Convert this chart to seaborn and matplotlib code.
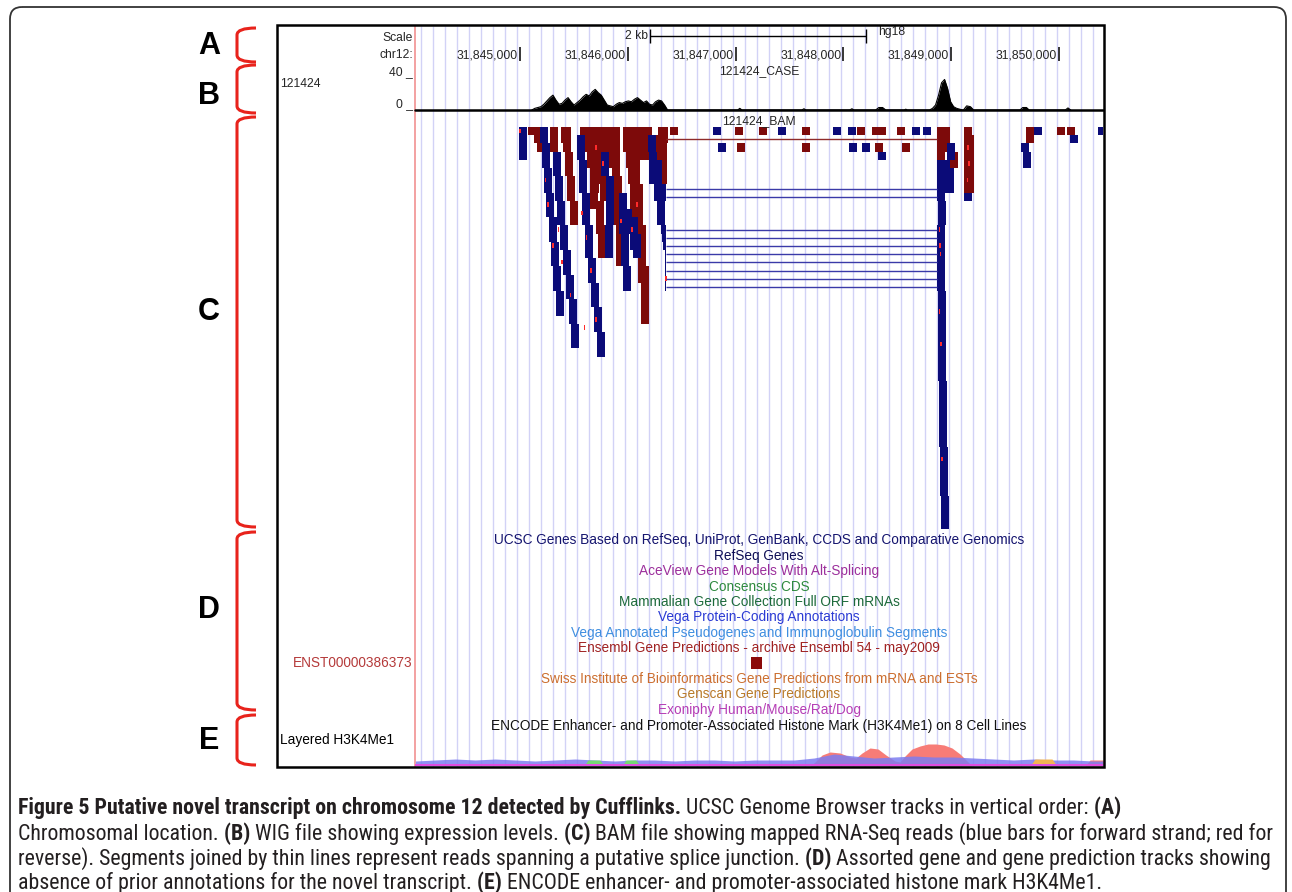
import numpy as np
import matplotlib
matplotlib.use("Agg")
import matplotlib.pyplot as plt
import seaborn as sns
from matplotlib import font_manager as fm
from matplotlib.patches import FancyBboxPatch, PathPatch, Rectangle
from matplotlib.path import Path

# ---------------------------------------------------------------- data
VIEW_START, VIEW_END = 31844026, 31850410
COORD_TICKS = [31845000, 31846000, 31847000, 31848000, 31849000, 31850000]
SCALE_BAR = (31846210, 31848210)
SCALE_LABEL = "2 kb"
ASSEMBLY = "hg18"
CHROM = "chr12:"
SAMPLE = "121424"
WIG_NAME = "121424_CASE"
BAM_NAME = "121424_BAM"
WIG_MAX = 40

# WIG coverage (fixedStep blocks + a few variableStep bumps)
COV_STEP = 28
COV_LEFT_START = 31845110
COV_LEFT = [0, 2, 3, 4, 7, 11, 15, 18, 12, 7, 8, 12, 15, 10, 6, 9, 12, 16, 19, 17,
            22, 25, 21, 18, 12, 6, 5, 4, 7, 9, 8, 10, 11, 10, 13, 15, 12, 9, 11, 7,
            6, 10, 12, 11, 6, 0]
COV_PEAK_START = 31848800
COV_PEAK = [0, 2, 6, 18, 33, 37, 26, 10, 4, 2, 1, 0]
COV_BUMP_POS = [31847020, 31847040, 31847060, 31847615, 31847635, 31847655,
                31848060, 31848080, 31848100, 31848300, 31848330, 31848365, 31848395,
                31848565, 31848580, 31848595, 31849115, 31849145, 31849180, 31849210,
                31849640, 31849665, 31849700, 31849725, 31850060, 31850085, 31850110]
COV_BUMP_VAL = [0, 2, 0, 0, 1.5, 0, 0, 1.5, 0, 0, 3, 3, 0, 0, 1, 0, 0, 5, 4, 0,
                0, 3, 3, 0, 0, 2.5, 0]

# BAM reads: (start, first_row, last_row) ; reads stacked in rows
READ_LEN = 74
N_ROWS = 49
FWD_READS = [
    (31844991, 0, 3), (31845186, 0, 1),
    (31845204, 2, 4), (31845223, 5, 7), (31845241, 8, 10), (31845269, 11, 13),
    (31845288, 14, 16), (31845306, 17, 19), (31845334, 20, 22),
    (31845306, 3, 5), (31845325, 6, 8), (31845343, 9, 11), (31845371, 12, 14),
    (31845399, 15, 17), (31845427, 18, 20), (31845455, 21, 23), (31845473, 24, 26),
    (31845529, 1, 3), (31845548, 4, 7), (31845575, 8, 11), (31845603, 12, 15),
    (31845631, 16, 18), (31845659, 19, 21), (31845687, 22, 24), (31845715, 25, 27),
    (31845752, 3, 5), (31845798, 6, 9), (31845789, 12, 15), (31845800, 10, 11),
    (31845919, 8, 12), (31845937, 13, 16), (31845956, 17, 19),
    (31845965, 10, 12), (31846021, 11, 14), (31846049, 13, 15),
    (31846188, 1, 2), (31846197, 3, 6), (31846240, 4, 8), (31846271, 9, 11),
    (31846791, 0, 0), (31846838, 2, 2), (31847394, 0, 0), (31847905, 0, 0),
    (31848044, 0, 0), (31848053, 2, 2), (31848174, 2, 2), (31848322, 3, 3),
    (31848638, 0, 0), (31848740, 0, 0), (31849649, 2, 2), (31849668, 3, 4),
    (31849770, 0, 0), (31850104, 1, 1), (31850364, 0, 0),
    (31848963, 2, 3), (31848870, 4, 6), (31848916, 4, 7), (31848953, 5, 7),
    (31848879, 9, 11), (31848879, 20, 30), (31848889, 31, 38),
    (31848898, 39, 44), (31848907, 45, 48), (31849120, 8, 8),
]
REV_READS = [
    (31845074, 0, 0), (31845130, 0, 1), (31845160, 0, 2), (31845278, 0, 2),
    (31845380, 0, 1), (31845399, 0, 2), (31845418, 3, 5), (31845436, 6, 8),
    (31845464, 9, 11),
    (31845557, 0, 0), (31845600, 0, 2), (31845622, 0, 4), (31845677, 0, 6),
    (31845742, 0, 8), (31845660, 4, 7),
    (31845789, 0, 3), (31845820, 0, 4), (31845650, 5, 9), (31845705, 9, 12),
    (31845724, 12, 15),
    (31845854, 0, 5), (31845872, 6, 11), (31845891, 12, 16),
    (31845960, 0, 2), (31845984, 0, 4), (31846000, 3, 6), (31846039, 0, 6),
    (31846095, 0, 3), (31846021, 5, 10),
    (31846067, 7, 13), (31846095, 12, 18), (31846123, 17, 23),
    (31846140, 0, 3), (31846151, 0, 0), (31846225, 1, 3), (31846281, 0, 0),
    (31846290, 2, 6), (31846300, 0, 1), (31846392, 0, 0),
    (31846995, 0, 0), (31847014, 2, 2), (31847218, 0, 0), (31847617, 0, 0),
    (31847617, 2, 2), (31848127, 0, 0), (31848267, 0, 0), (31848322, 0, 0),
    (31848294, 2, 2), (31848499, 0, 0), (31848545, 2, 2), (31849696, 0, 1),
    (31849983, 0, 0), (31850076, 0, 0),
    (31848870, 0, 3), (31848916, 0, 2), (31848990, 3, 4),
    (31849120, 0, 7), (31849139, 1, 7),
]
# spliced reads: (row, left_start, left_end, right_start, right_end, strand)
SPLICED = [
    (1, 31846281, 31846355, 31848870, 31848935, "-"),
    (7, 31846271, 31846355, 31848870, 31848935, "+"),
    (8, 31846290, 31846355, 31848870, 31848935, "+"),
    (12, 31846308, 31846355, 31848870, 31848935, "+"),
    (13, 31846318, 31846355, 31848870, 31848935, "+"),
    (14, 31846327, 31846355, 31848870, 31848935, "+"),
    (15, 31846345, 31846355, 31848870, 31848935, "+"),
    (16, 31846345, 31846355, 31848870, 31848935, "+"),
    (17, 31846345, 31846355, 31848870, 31848935, "+"),
    (18, 31846345, 31846355, 31848870, 31848935, "+"),
    (19, 31846345, 31846355, 31848870, 31848935, "+"),
]
MISMATCH_POS = [31844995, 31845230, 31845250, 31845300, 31845350, 31845380, 31845565,
                31845610, 31845650, 31845700, 31845760, 31845930, 31846030, 31848885,
                31848890, 31848895, 31848884, 31848902, 31848905, 31846347,
                31849150, 31849160, 31849145, 31845700, 31846080, 31845460, 31845590]
MISMATCH_ROW = [0, 6, 9, 14, 12, 16, 10, 13, 17, 23, 4, 11, 12, 12, 14, 15, 22, 26, 40,
                18, 2, 4, 6, 2, 9, 20, 24]

TRACKS = [
    ("UCSC Genes Based on RefSeq, UniProt, GenBank, CCDS and Comparative Genomics", "#14146e"),
    ("RefSeq Genes", "#0e0e55"),
    ("AceView Gene Models With Alt-Splicing", "#9c2f9c"),
    ("Consensus CDS", "#2f8a3f"),
    ("Mammalian Gene Collection Full ORF mRNAs", "#1d6a3b"),
    ("Vega Protein-Coding Annotations", "#2b3bd4"),
    ("Vega Annotated Pseudogenes and Immunoglobulin Segments", "#3f8ee0"),
    ("Ensembl Gene Predictions - archive Ensembl 54 - may2009", "#a02222"),
    ("Swiss Institute of Bioinformatics Gene Predictions from mRNA and ESTs", "#cc6f30"),
    ("Genscan Gene Predictions", "#b97a2a"),
    ("Exoniphy Human/Mouse/Rat/Dog", "#b53db5"),
    ("ENCODE Enhancer- and Promoter-Associated Histone Mark (H3K4Me1) on 8 Cell Lines", "#111111"),
]
ENSEMBL_ID = "ENST00000386373"
ENSEMBL_FEATURE = (31847140, 31847250)
HISTONE_LABEL = "Layered H3K4Me1"

# Layered H3K4Me1 signal
H_BLUE_START, H_BLUE_STEP = 31844030, 185
H_BLUE = [5, 6, 7, 6, 7, 6, 5, 6, 7, 6, 5, 6, 6, 5, 6, 6, 5, 6, 6, 6,
          8, 12, 10, 8, 9, 10, 9, 9, 8, 7, 6, 7, 6, 6, 5]
H_SALMON_POS = [31847691, 31847738, 31847803, 31847877, 31847970, 31848062, 31848118,
                31848174, 31848248, 31848322, 31848396, 31848480, 31848526, 31848573,
                31848638, 31848712, 31848786, 31848860, 31848935, 31849009, 31849083,
                31849139, 31849195, 31850243, 31850290, 31850410]
H_SALMON = [0, 4, 11, 14, 13, 9, 8, 13, 18, 17, 11, 5, 4, 10, 17, 20, 22, 22, 21, 18,
            12, 6, 0, 0, 6, 6]
H_GREEN_POS = [31845594, 31845631, 31845742, 31845780, 31845947, 31845984, 31846076, 31846114]
H_GREEN = [0, 6, 6, 0, 0, 6, 6, 0]
H_ORANGE_POS = [31849733, 31849779, 31849937, 31849983]
H_ORANGE = [0, 7, 7, 0]
H_MAGENTA_POS = [VIEW_START, VIEW_END]
H_MAGENTA = [2.5, 2.5]

PANEL_LETTERS = ["A", "B", "C", "D", "E"]

CAPTION = [
    [("Figure 5 Putative novel transcript on chromosome 12 detected by Cufflinks.", True),
     (" UCSC Genome Browser tracks in vertical order:", False), (" (A)", True)],
    [("Chromosomal location.", False), (" (B)", True),
     (" WIG file showing expression levels.", False), (" (C)", True),
     (" BAM file showing mapped RNA-Seq reads (blue bars for forward strand; red for", False)],
    [("reverse). Segments joined by thin lines represent reads spanning a putative splice junction.", False),
     (" (D)", True), (" Assorted gene and gene prediction tracks showing", False)],
    [("absence of prior annotations for the novel transcript.", False), (" (E)", True),
     (" ENCODE enhancer- and promoter-associated histone mark H3K4Me1.", False)],
]

# ---------------------------------------------------------------- style
sns.set_theme(style="white")
plt.rcParams['font.family'] = ['Liberation Sans', 'DejaVu Sans']

W, H = 1292, 892
fig = plt.figure(figsize=(W / 100, H / 100), dpi=100, facecolor="white")
renderer = fig.canvas.get_renderer()
X0, X1 = 415, 1103
ROW_PX = 8.2
BLUE = "#0b0b78"
RED = "#7d0a0a"


def weight_num(w):
    if isinstance(w, (int, float)):
        return int(w)
    return fm.weight_dict.get(str(w).lower(), 400)


def find_condensed():
    prefs = ["Liberation Sans Narrow", "Roboto Condensed", "Open Sans Condensed",
             "Noto Sans Condensed", "DejaVu Sans"]
    found = {}
    for f in fm.fontManager.ttflist:
        nm = f.name
        st = str(f.stretch).lower()
        cond = ("narrow" in nm.lower() or "condensed" in nm.lower()
                or "condensed" in st or "narrow" in f.fname.lower()
                or "condensed" in f.fname.lower())
        if not cond or f.style != "normal":
            continue
        w = weight_num(f.weight)
        slot = "bold" if w >= 600 else "regular"
        if slot == "regular" and w < 350:
            continue
        found.setdefault(nm, {})
        found[nm].setdefault(slot, f.fname)
    for p in prefs:
        if p in found and "regular" in found[p] and "bold" in found[p]:
            return found[p]["regular"], found[p]["bold"]
    for nm, d in found.items():
        if "regular" in d and "bold" in d:
            return d["regular"], d["bold"]
    return None


COND = find_condensed()


def cap_font(bold, size):
    if COND:
        return fm.FontProperties(fname=COND[1] if bold else COND[0], size=size)
    return fm.FontProperties(family="Liberation Sans", weight="bold" if bold else "normal",
                             size=size)


def text_width(s, size, **kw):
    t = fig.text(0, 0, s, fontsize=size, **kw)
    w = t.get_window_extent(renderer).width
    t.remove()
    return w


def fit_size(s, target, **kw):
    return 10 * target / text_width(s, 10, **kw)


def runs_width(runs, size):
    tot = 0
    for s, b in runs:
        t = fig.text(0, 0, s, fontproperties=cap_font(b, size))
        tot += t.get_window_extent(renderer).width
        t.remove()
    return tot


def px_axes(x0, y0, x1, y1, z=1):
    ax = fig.add_axes([x0 / W, 1 - y1 / H, (x1 - x0) / W, (y1 - y0) / H], zorder=z)
    ax.set_facecolor("none")
    ax.set_axis_off()
    ax.set_xlim(VIEW_START, VIEW_END)
    return ax


fs_track = fit_size(TRACKS[0][0], 530)
fs_num = fit_size("31,845,000", 58) * 1.05

# ---------------------------------------------------------------- grid
ax_g = px_axes(X0, 26, X1, 767, z=0)
ax_g.set_ylim(0, 1)
grid_pos = np.arange(31844082, VIEW_END, 111.4)
ax_g.vlines(grid_pos, 0, 1, color="#d2d2f6", lw=1.0)
ax_g.axvline(VIEW_START, color="#f29a9a", lw=1.3, clip_on=False)

# ---------------------------------------------------------------- ruler
ax_r = px_axes(X0, 25, X1, 64)
ax_r.set_ylim(64, 25)
ax_r.hlines(36, SCALE_BAR[0], SCALE_BAR[1], color="black", lw=1.0)
ax_r.vlines(SCALE_BAR, 29, 43, color="black", lw=1.0)
ax_r.annotate(SCALE_LABEL, (SCALE_BAR[0], 36), xytext=(-2, 0), textcoords="offset pixels",
              ha="right", va="center", fontsize=fs_num)
ax_r.annotate(ASSEMBLY, (SCALE_BAR[1], 32), xytext=(12, 0), textcoords="offset pixels",
              ha="left", va="center", fontsize=fs_num)
ax_r.vlines(COORD_TICKS, 47, 61, color="black", lw=1.1)
for t in COORD_TICKS:
    ax_r.annotate(f"{t:,}", (t, 55), xytext=(-2, 0), textcoords="offset pixels",
                  ha="right", va="center", fontsize=fs_num)

# ---------------------------------------------------------------- coverage (WIG)
ax_c = px_axes(X0, 77, X1, 110)
ax_c.set_ylim(0, WIG_MAX)
cov_x = ([COV_LEFT_START + i * COV_STEP for i in range(len(COV_LEFT))]
         + [COV_PEAK_START + i * COV_STEP for i in range(len(COV_PEAK))] + COV_BUMP_POS)
cov_y = COV_LEFT + COV_PEAK + COV_BUMP_VAL
order = np.argsort(cov_x)
cov_x = np.array(cov_x)[order]
cov_y = np.array(cov_y, dtype=float)[order]
ax_c.fill_between(cov_x, cov_y, color="black", lw=0)
sns.lineplot(x=cov_x, y=cov_y, ax=ax_c, color="black", lw=0.8, sort=False)
ax_c.set_axis_off()
ax_c.axhline(0, color="black", lw=1.8, clip_on=False)

# ---------------------------------------------------------------- BAM reads
ax_b = px_axes(X0, 127, X1, 127 + N_ROWS * ROW_PX)
ax_b.set_ylim(N_ROWS, 0)


def draw_reads(reads, color):
    st = [r[0] for r in reads]
    bot = [r[1] for r in reads]
    hgt = [r[2] - r[1] + 1 for r in reads]
    ax_b.bar(st, hgt, bottom=bot, width=READ_LEN, align="edge", color=color, lw=0)


draw_reads(REV_READS, RED)
draw_reads(FWD_READS, BLUE)
for row, ls, le, rs, re_, strand in SPLICED:
    col = BLUE if strand == "+" else RED
    ax_b.bar([ls, rs], [1, 1], bottom=row, width=[le - ls, re_ - rs + 10],
             align="edge", color=col, lw=0)
    ax_b.hlines(row + 0.5, le, rs, color="#3a3aa8" if strand == "+" else "#8e2a2a", lw=1.0)
ax_b.bar(MISMATCH_POS, 0.55, bottom=np.array(MISMATCH_ROW) + 0.2, width=16,
         align="edge", color="#ff2b2b", lw=0)

# ---------------------------------------------------------------- Ensembl feature
ax_e = px_axes(X0, 657, X1, 669)
ax_e.set_ylim(0, 1)
ax_e.broken_barh([(ENSEMBL_FEATURE[0], ENSEMBL_FEATURE[1] - ENSEMBL_FEATURE[0])], (0, 1),
                 color="#8b0a0a", lw=0)

# ---------------------------------------------------------------- histone
ax_h = px_axes(X0, 735, X1, 766)
ax_h.set_ylim(0, 31)
hb_x = [H_BLUE_START + i * H_BLUE_STEP for i in range(len(H_BLUE))] + [VIEW_END]
hb_y = H_BLUE + [H_BLUE[-1]]
ax_h.fill_between(H_SALMON_POS, H_SALMON, color="#f77c77", lw=0)
ax_h.fill_between(hb_x, hb_y, color="#7d7df0", lw=0, alpha=0.85)
ax_h.fill_between(H_GREEN_POS, H_GREEN, color="#74d874", lw=0)
ax_h.fill_between(H_ORANGE_POS, H_ORANGE, color="#f2b454", lw=0)
ax_h.fill_between(H_MAGENTA_POS, H_MAGENTA, color="#e04ce0", lw=0)

# ---------------------------------------------------------------- overlay (pixel coords)
ax = fig.add_axes([0, 0, 1, 1], zorder=5)
ax.set_xlim(0, W)
ax.set_ylim(H, 0)
ax.set_axis_off()
ax.set_facecolor("none")

ax.add_patch(FancyBboxPatch((10, 7), 1276, 900, boxstyle="round,pad=0,rounding_size=12",
                            fc="none", ec="#333333", lw=1.3, clip_on=False))
ax.add_patch(Rectangle((277, 25), 827, 742, fc="none", ec="black", lw=1.8))

# header labels
ax.text(413, 38, "Scale", ha="right", va="center", fontsize=fs_num)
ax.text(413, 55, CHROM, ha="right", va="center", fontsize=fs_num)
ax.text(413, 72, f"{WIG_MAX} _", ha="right", va="center", fontsize=fs_num)
ax.text(413, 104, "0 _", ha="right", va="center", fontsize=fs_num)
ax.text(280, 84, SAMPLE, ha="left", va="center", fontsize=fs_num)
ax.text((X0 + X1) / 2, 71, WIG_NAME, ha="center", va="center", fontsize=fs_num)
ax.text((X0 + X1) / 2, 121, BAM_NAME, ha="center", va="center", fontsize=fs_num)

track_y = [540, 556, 571, 587, 602, 617, 633, 648, 679, 694, 710, 726]
for (label, col), y in zip(TRACKS, track_y):
    ax.text((X0 + X1) / 2, y, label, ha="center", va="center", fontsize=fs_track, color=col)
ax.text(413, 663, ENSEMBL_ID, ha="right", va="center", fontsize=fs_track, color="#b53a3a")
ax.text(280, 740, HISTONE_LABEL, ha="left", va="center", fontsize=fs_track, color="black")

# panel letters and braces
letter_y = [46, 96, 312, 610, 741]
brace_span = [(28, 62), (65, 113), (117, 527), (532, 710), (715, 765)]
for L, ly, (b0, b1) in zip(PANEL_LETTERS, letter_y, brace_span):
    ax.text(209, ly, L, ha="center", va="center", fontsize=22, fontweight="bold", color="black")
    verts = [(256, b0), (237, b0), (237, b0 + 7), (237, b1 - 7), (237, b1), (256, b1)]
    codes = [Path.MOVETO, Path.CURVE3, Path.CURVE3, Path.LINETO, Path.CURVE3, Path.CURVE3]
    ax.add_patch(PathPatch(Path(verts, codes), fc="none", ec="#e8231c", lw=2.2,
                           capstyle="butt"))

# caption
CAP_X = 18
cap_targets = [1145, 1281, 1284, 855]
fs_cap = 14.0
for _ in range(3):
    fits = [fs_cap * (tgt - CAP_X) / runs_width(runs, fs_cap)
            for runs, tgt in zip(CAPTION[1:3], cap_targets[1:3])]
    fs_cap = min(fits)
fs_cap *= 0.995
cap_base = [814, 840, 865, 889]
for runs, yb in zip(CAPTION, cap_base):
    x = CAP_X
    for s, b in runs:
        t = fig.text(x / W, 1 - yb / H, s, fontproperties=cap_font(b, fs_cap),
                     color="#231f20", ha="left", va="baseline")
        x += t.get_window_extent(renderer).width

fig.savefig("out.png", dpi=100, facecolor="white")
